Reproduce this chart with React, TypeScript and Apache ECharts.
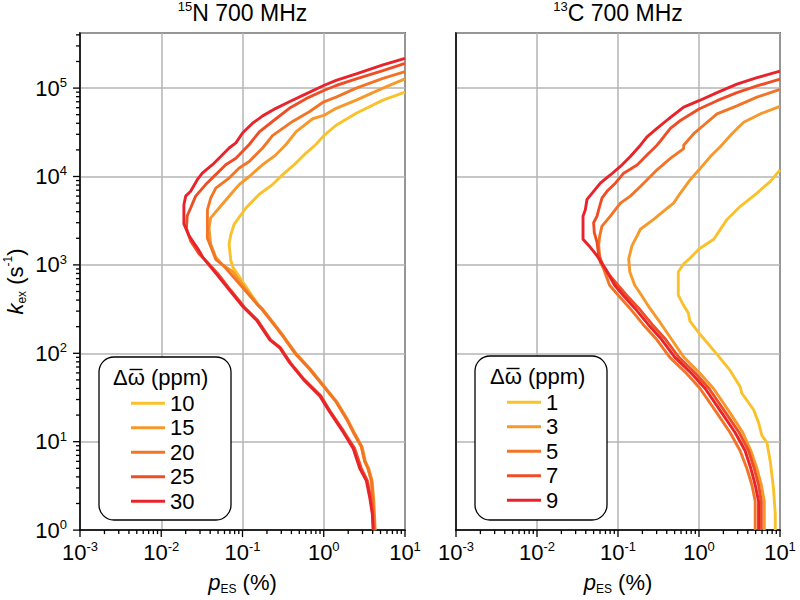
import React, { useEffect, useRef } from 'react';
import * as echarts from 'echarts';

const FONT = '"Liberation Sans", Arial, Helvetica, sans-serif';

const N_NAMES = ['10', '15', '20', '25', '30'];
const C_NAMES = ['1', '3', '5', '7', '9'];
const COLORS = ['#F9C22B', '#F6982A', '#F27527', '#EE4E26', '#E8232A'];

// [pES (%), kex (s^-1)] — 15N 700 MHz
const N10 = [[10, 90000], [5.35, 73000], [2.51, 52000], [1.42, 38000], [1.0, 29000], [0.8, 23000], [0.605, 18400], [0.455, 14200], [0.312, 10500], [0.234, 8100], [0.161, 6300], [0.11, 4400], [0.079, 2900], [0.0718, 2200], [0.0684, 1720], [0.0718, 1120], [0.076, 944], [0.121, 500], [0.162, 337], [0.171, 320], [0.238, 218], [0.316, 155], [0.44, 101], [0.673, 66], [0.98, 43], [1.43, 28], [1.9, 18.2], [2.3, 12.9], [2.9, 8.8], [3.19, 6.0], [3.5, 5.0], [3.86, 3.6], [4.05, 2.14], [4.24, 1]];
const N15 = [[10, 127000], [5.35, 100000], [2.51, 73000], [1.42, 59000], [1.0, 49000], [0.73, 45000], [0.455, 32000], [0.343, 23000], [0.258, 17600], [0.177, 13600], [0.121, 10000], [0.091, 8100], [0.0718, 6300], [0.0515, 4400], [0.0406, 3400], [0.0387, 2600], [0.0406, 1720], [0.0469, 1220], [0.0566, 1000], [0.075, 850], [0.152, 360], [0.175, 320], [0.243, 218], [0.322, 155], [0.45, 101], [0.685, 66], [1.0, 43], [1.46, 28], [1.94, 18.2], [2.35, 12.9], [2.96, 8.8], [3.25, 6.0], [3.57, 5.0], [3.94, 3.6], [4.13, 2.14], [4.3, 1]];
const N20 = [[10, 154000], [5.35, 129000], [2.51, 100000], [1.42, 79000], [1.0, 70000], [0.665, 54000], [0.414, 42000], [0.234, 29000], [0.177, 21000], [0.121, 14800], [0.091, 12500], [0.0684, 9600], [0.0469, 7400], [0.0406, 5700], [0.037, 4200], [0.037, 2000], [0.041, 1580], [0.047, 1150], [0.058, 990], [0.148, 367], [0.171, 320], [0.238, 218], [0.316, 155], [0.44, 101], [0.673, 66], [0.98, 43], [1.43, 28], [1.9, 18.2], [2.3, 12.9], [2.9, 8.8], [3.19, 6.0], [3.5, 5.0], [3.86, 3.6], [4.05, 2.14], [4.24, 1]];
const N25 = [[10, 190000], [5.35, 158000], [2.51, 127000], [1.42, 107000], [1.0, 94000], [0.605, 76000], [0.377, 59000], [0.258, 45000], [0.161, 32000], [0.121, 23000], [0.083, 16100], [0.0622, 13600], [0.0469, 10500], [0.0352, 8100], [0.0265, 6000], [0.023, 4400], [0.0209, 3600], [0.0204, 2600], [0.023, 1870], [0.0292, 1330], [0.036, 1100], [0.05, 790], [0.072, 513], [0.105, 334], [0.153, 237], [0.222, 142], [0.295, 115], [0.39, 78], [0.57, 51], [0.92, 33], [1.22, 21.6], [1.78, 12.9], [2.4, 8.4], [2.9, 5.0], [3.45, 3.6], [3.78, 2.33], [4.0, 1.52], [4.1, 1]];
const N30 = [[10, 217000], [5.35, 183000], [2.51, 145000], [1.42, 122000], [1.0, 107000], [0.605, 86000], [0.377, 70000], [0.258, 59000], [0.177, 48500], [0.133, 40000], [0.1, 31000], [0.083, 24000], [0.0684, 21000], [0.054, 16800], [0.0427, 13600], [0.032, 10900], [0.0278, 9200], [0.023, 6800], [0.02, 6000], [0.019, 4800], [0.019, 2900], [0.022, 2130], [0.0292, 1450], [0.0328, 1200], [0.0479, 787], [0.0698, 513], [0.102, 334], [0.149, 237], [0.217, 142], [0.288, 115], [0.382, 78], [0.557, 51], [0.893, 33], [1.19, 21.6], [1.73, 12.9], [2.3, 8.4], [2.77, 5.0], [3.35, 3.6], [3.68, 2.33], [3.96, 1.52], [4.05, 1]];

// 13C 700 MHz
const C1 = [[10, 11900], [7.6, 8800], [5.2, 6500], [3.24, 4600], [2.22, 3270], [1.52, 1950], [1.0, 1510], [0.76, 1170], [0.647, 1030], [0.555, 830], [0.555, 456], [0.64, 353], [0.738, 286], [0.773, 231], [1.03, 164], [1.66, 98], [2.42, 64], [3.22, 41.9], [3.38, 35.3], [4.72, 23], [5.44, 16.4], [5.98, 11.7], [6.9, 9.8], [7.6, 5.9], [8.3, 2.98], [8.75, 1.5], [8.75, 1]];
const C3 = [[10, 62000], [5.7, 51000], [3.56, 41000], [2.55, 30500], [1.83, 21700], [1.38, 16800], [1.0, 11900], [0.78, 9200], [0.589, 6500], [0.486, 5000], [0.366, 4060], [0.275, 3270], [0.189, 2530], [0.172, 2130], [0.149, 1650], [0.1355, 1170], [0.14, 830], [0.161, 589], [0.194, 456], [0.247, 324], [0.344, 212], [0.458, 144], [0.652, 90], [1.03, 59], [1.51, 40], [2.42, 21.2], [3.47, 12.7], [4.37, 7.9], [5.19, 4.97], [5.88, 3.24], [6.4, 2.12], [6.4, 1]];
const C5 = [[10, 97000], [5.2, 79000], [2.94, 63000], [1.67, 51000], [1.14, 38000], [0.86, 30500], [0.647, 22600], [0.647, 20700], [0.443, 16000], [0.303, 11900], [0.251, 10000], [0.189, 7700], [0.142, 6000], [0.107, 5000], [0.0804, 3560], [0.0634, 2750], [0.0594, 2130], [0.0577, 1650], [0.0605, 1070], [0.0665, 900], [0.0788, 589], [0.1, 456], [0.14, 324], [0.204, 212], [0.299, 144], [0.436, 90], [0.703, 59], [1.03, 40], [1.66, 21.2], [2.42, 12.7], [3.22, 7.9], [3.9, 4.97], [4.5, 3.24], [4.94, 2.12], [4.94, 1]];
const C7 = [[10, 126000], [5.2, 106000], [2.94, 89000], [1.67, 72000], [1.0, 58000], [0.589, 43000], [0.443, 35000], [0.366, 28000], [0.303, 22600], [0.228, 17500], [0.172, 13500], [0.1175, 10900], [0.0927, 8400], [0.0731, 6800], [0.0634, 5700], [0.0577, 4200], [0.0551, 3560], [0.05, 3000], [0.051, 2320], [0.0551, 1800], [0.0577, 1300], [0.065, 1000], [0.08, 750], [0.1, 589], [0.127, 456], [0.18, 324], [0.264, 212], [0.386, 144], [0.565, 90], [0.91, 59], [1.33, 40], [2.14, 21.2], [3.13, 12.7], [4.09, 7.9], [4.81, 4.97], [5.44, 3.24], [5.88, 2.12], [5.88, 1]];
const C9 = [[10, 156000], [5.2, 131000], [2.94, 111000], [1.67, 89000], [1.0, 72000], [0.647, 61000], [0.423, 45000], [0.303, 35000], [0.228, 28000], [0.189, 22600], [0.142, 16800], [0.107, 13000], [0.0804, 10400], [0.0605, 8400], [0.05, 6800], [0.0414, 5500], [0.0395, 4200], [0.037, 3560], [0.037, 1950], [0.0455, 1580], [0.0551, 1270], [0.07, 900], [0.091, 589], [0.115, 456], [0.161, 324], [0.236, 212], [0.344, 144], [0.504, 90], [0.81, 59], [1.19, 40], [1.91, 21.2], [2.79, 12.7], [3.71, 7.9], [4.37, 4.97], [4.94, 3.24], [5.44, 2.12], [5.44, 1]];

const N_SERIES = [N10, N15, N20, N25, N30];
const C_SERIES = [C1, C3, C5, C7, C9];

const X_MIN = 0.001;
const X_MAX = 10;
const Y_MIN = 1;
const Y_MAX = 420000;
const X_MAJOR = [0.001, 0.01, 0.1, 1, 10];
const Y_MAJOR = [1, 10, 100, 1000, 10000, 100000];
const MULT = [2, 3, 4, 5, 6, 7, 8, 9];
const X_MINOR = X_MAJOR.slice(0, -1).flatMap((d) => MULT.map((m) => Number((d * m).toPrecision(3))));
const Y_MINOR = Y_MAJOR.flatMap((d) => MULT.map((m) => d * m)).filter((v) => v < Y_MAX);

const PANEL_TITLES = ['{s|15}N 700 MHz', '{s|13}C 700 MHz'];
const LEGEND_TITLE = 'Δω (ppm)';

function powLabel(v: number) {
  const e = Math.log10(v);
  const r = Math.round(e);
  if (Math.abs(e - r) > 1e-6) return '';
  return `10{s|${r}}`;
}

function tickSeries(idx: number, axis: 'x' | 'y', values: number[], len: number) {
  return {
    type: 'custom',
    xAxisIndex: idx,
    yAxisIndex: idx,
    silent: true,
    clip: false,
    z: 6,
    data: values.map((v) => (axis === 'x' ? [v, Y_MIN] : [X_MIN, v])),
    renderItem: (_params: any, api: any) => {
      const p = api.coord([api.value(0), api.value(1)]);
      const shape =
        axis === 'x'
          ? { x1: p[0], y1: p[1], x2: p[0], y2: p[1] + len }
          : { x1: p[0] - len, y1: p[1], x2: p[0], y2: p[1] };
      return { type: 'line', shape, style: { stroke: '#000', lineWidth: 1.3 } };
    },
  };
}

export default function App() {
  const ref = useRef<HTMLDivElement>(null);

  useEffect(() => {
    if (!ref.current) return;
    const chart = echarts.init(ref.current, null, { renderer: 'svg' });

    const labelRich = {
      s: { fontSize: 13, fontFamily: FONT, color: '#000', verticalAlign: 'top', lineHeight: 13 },
    };

    const makeX = (idx: number) => ({
      type: 'log',
      logBase: 10,
      gridIndex: idx,
      min: X_MIN,
      max: X_MAX,
      axisLine: { show: true, lineStyle: { color: '#000', width: 1.5 } },
      axisTick: { show: false },
      splitLine: { show: true, lineStyle: { color: '#b5b5b5', width: 1.5 } },
      axisLabel: {
        show: true,
        margin: 10,
        fontSize: 22,
        lineHeight: 24,
        fontFamily: FONT,
        color: '#000',
        formatter: powLabel,
        rich: labelRich,
      },
      name: '{i|p}{sub|ES} (%)',
      nameLocation: 'middle',
      nameGap: 34,
      nameTextStyle: {
        fontSize: 22,
        lineHeight: 26,
        fontFamily: FONT,
        color: '#000',
        rich: {
          i: { fontStyle: 'italic', fontSize: 22, fontFamily: FONT, color: '#000' },
          sub: { fontSize: 12, fontFamily: FONT, color: '#000', verticalAlign: 'bottom', lineHeight: 12 },
        },
      },
    });

    const makeY = (idx: number) => ({
      type: 'log',
      logBase: 10,
      gridIndex: idx,
      min: Y_MIN,
      max: Y_MAX,
      axisLine: { show: true, lineStyle: { color: '#000', width: 1.5 } },
      axisTick: { show: false },
      splitLine: { show: true, lineStyle: { color: '#b5b5b5', width: 1.5 } },
      axisLabel: {
        show: idx === 0,
        margin: 13,
        fontSize: 22,
        lineHeight: 24,
        fontFamily: FONT,
        color: '#000',
        formatter: powLabel,
        rich: labelRich,
      },
      name: idx === 0 ? '{i|k}{sub|ex} (s{sup|-1})' : '',
      nameLocation: 'middle',
      nameRotate: 90,
      nameGap: 52,
      nameTextStyle: {
        fontSize: 22,
        lineHeight: 26,
        fontFamily: FONT,
        color: '#000',
        rich: {
          i: { fontStyle: 'italic', fontSize: 22, fontFamily: FONT, color: '#000' },
          sub: { fontSize: 12, fontFamily: FONT, color: '#000', verticalAlign: 'bottom', lineHeight: 12 },
          sup: { fontSize: 12, fontFamily: FONT, color: '#000', verticalAlign: 'top', lineHeight: 12 },
        },
      },
    });

    const lineSeries = (names: string[], data: number[][][], idx: number) =>
      names.map((name, i) => ({
        type: 'line',
        name,
        xAxisIndex: idx,
        yAxisIndex: idx,
        data: data[i],
        symbol: 'none',
        smooth: false,
        clip: true,
        z: 3 + i * 0.01,
        itemStyle: { color: COLORS[i] },
        lineStyle: { color: COLORS[i], width: 2.9 },
      }));

    const legendBase = {
      orient: 'vertical',
      itemWidth: 34,
      itemHeight: 3,
      itemGap: 0,
      icon: 'rect',
      padding: 0,
      selectedMode: false,
      z: 30,
      textStyle: { fontSize: 22, lineHeight: 24.5, fontFamily: FONT, color: '#000' },
    };

    const boxes = [
      { x: 99, y: 357, w: 132, h: 163, tx: 113 },
      { x: 475, y: 356, w: 132, h: 164, tx: 490 },
    ];

    const option: any = {
      animation: false,
      backgroundColor: '#fff',
      textStyle: { fontFamily: FONT },
      grid: [
        { left: 80, right: 395, top: 33, bottom: 64, show: true, borderColor: '#000', borderWidth: 1.5, backgroundColor: 'transparent' },
        { left: 456, right: 20, top: 33, bottom: 64, show: true, borderColor: '#000', borderWidth: 1.5, backgroundColor: 'transparent' },
      ],
      xAxis: [makeX(0), makeX(1)],
      yAxis: [makeY(0), makeY(1)],
      legend: [
        { ...legendBase, data: N_NAMES, left: 131, top: 391 },
        { ...legendBase, data: C_NAMES, left: 507, top: 390 },
      ],
      series: [
        ...lineSeries(N_NAMES, N_SERIES, 0),
        ...lineSeries(C_NAMES, C_SERIES, 1),
        tickSeries(0, 'x', X_MAJOR, 7),
        tickSeries(0, 'x', X_MINOR, 4),
        tickSeries(1, 'x', X_MAJOR, 7),
        tickSeries(1, 'x', X_MINOR, 4),
        tickSeries(0, 'y', Y_MAJOR, 7),
        tickSeries(0, 'y', Y_MINOR, 4),
      ],
      graphic: [
        ...boxes.map((b) => ({
          type: 'rect',
          z: 20,
          shape: { x: b.x, y: b.y, width: b.w, height: b.h, r: 15 },
          style: { fill: '#fff', stroke: '#000', lineWidth: 1.3 },
        })),
        ...boxes.map((b) => ({
          type: 'text',
          z: 31,
          x: b.tx,
          y: b.y + 20,
          style: {
            text: LEGEND_TITLE,
            fontSize: 22,
            fontFamily: FONT,
            fill: '#000',
            align: 'left',
            verticalAlign: 'middle',
          },
        })),
        // bar over omega
        ...boxes.map((b) => ({
          type: 'line',
          z: 31,
          shape: { x1: b.tx + 16.5, y1: b.y + 12.5, x2: b.tx + 29.5, y2: b.y + 12.5 },
          style: { stroke: '#000', lineWidth: 1.4 },
        })),
        ...[242.5, 618].map((cx, i) => ({
          type: 'text',
          z: 31,
          x: cx,
          y: 13,
          style: {
            text: PANEL_TITLES[i],
            fontSize: 23,
            fontFamily: FONT,
            fill: '#000',
            align: 'center',
            verticalAlign: 'middle',
            lineHeight: 26,
            rich: {
              s: { fontSize: 13, fontFamily: FONT, fill: '#000', verticalAlign: 'top', lineHeight: 13 },
            },
          },
        })),
      ],
    };

    chart.setOption(option);
    return () => chart.dispose();
  }, []);

  return (
    <div
      ref={ref}
      style={{ position: 'absolute', left: 0, top: 0, width: 800, height: 600, background: '#fff' }}
    />
  );
}
